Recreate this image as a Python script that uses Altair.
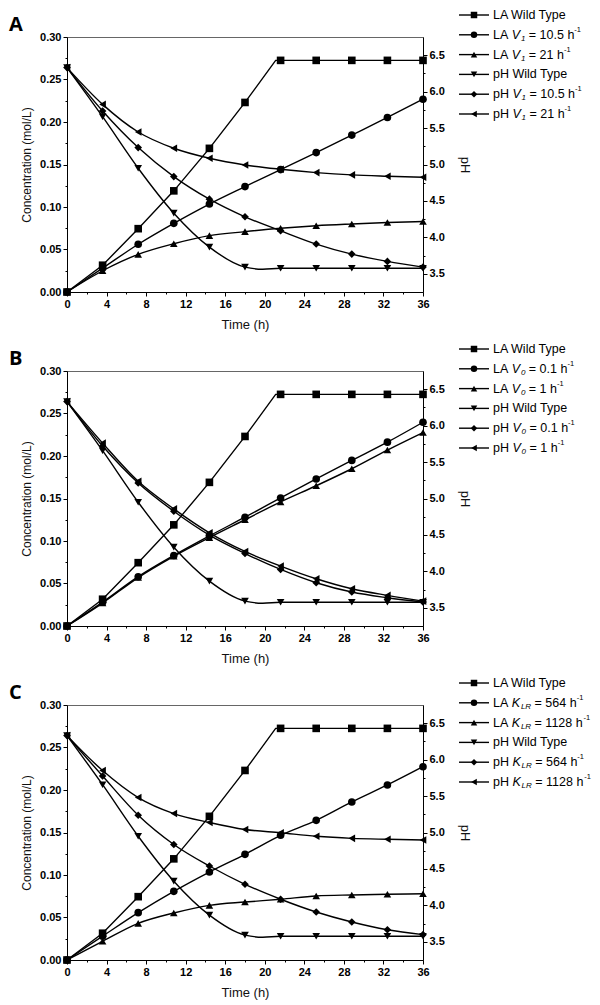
import altair as alt
import pandas as pd

# ---------------- data ----------------
T = [0, 3.6, 7.2, 10.8, 14.4, 18.0, 21.6, 25.2, 28.8, 32.4, 36.0]

LA_WILD = [0.0, 0.0315, 0.0745, 0.119, 0.169, 0.223, 0.2725, 0.2725, 0.2725, 0.2725, 0.2725]
LA_WILD_KNEE = [21.1, 0.2725]          # where the wild-type LA line levels off
PH_WILD = [6.33, 5.656, 4.949, 4.332, 3.866, 3.592, 3.575, 3.575, 3.575, 3.575, 3.575]
PH_WILD_DIP = [19.8, 3.563]            # lowest point of the wild-type pH line

# Panel A
A_LA_1 = [0.0, 0.028, 0.0562, 0.0808, 0.1035, 0.124, 0.144, 0.164, 0.1846, 0.2053, 0.2268]
A_LA_2 = [0.0, 0.025, 0.0443, 0.0568, 0.0663, 0.071, 0.075, 0.078, 0.080, 0.0817, 0.083]
A_PH_1 = [6.33, 5.734, 5.232, 4.834, 4.524, 4.282, 4.09, 3.908, 3.77, 3.67, 3.592]
A_PH_2 = [6.33, 5.825, 5.446, 5.223, 5.086, 4.994, 4.935, 4.889, 4.857, 4.839, 4.825]
# Panel B
B_LA_1 = [0.0, 0.028, 0.058, 0.083, 0.106, 0.128, 0.1506, 0.173, 0.1948, 0.2163, 0.2397]
B_LA_2 = [0.0, 0.027, 0.057, 0.082, 0.104, 0.125, 0.146, 0.165, 0.185, 0.207, 0.2276]
B_PH_1 = [6.33, 5.72, 5.213, 4.825, 4.497, 4.245, 4.026, 3.844, 3.716, 3.638, 3.579]
B_PH_2 = [6.33, 5.76, 5.236, 4.857, 4.529, 4.273, 4.072, 3.898, 3.761, 3.67, 3.592]
# Panel C
C_LA_1 = [0.0, 0.028, 0.0557, 0.0808, 0.1035, 0.1243, 0.1467, 0.1643, 0.1859, 0.2059, 0.2274]
C_LA_2 = [0.0, 0.022, 0.0431, 0.0553, 0.0643, 0.0682, 0.0714, 0.0753, 0.0765, 0.0773, 0.078]
C_PH_1 = [6.33, 5.775, 5.237, 4.836, 4.54, 4.289, 4.084, 3.909, 3.772, 3.666, 3.598]
C_PH_2 = [6.33, 5.85, 5.48, 5.26, 5.137, 5.041, 4.996, 4.948, 4.92, 4.907, 4.897]

PANELS = [
    {"letter": "A", "sym": "V", "sub": "1", "vals": ["10.5", "21"],
     "la": [A_LA_1, A_LA_2], "ph": [A_PH_1, A_PH_2]},
    {"letter": "B", "sym": "V", "sub": "0", "vals": ["0.1", "1"],
     "la": [B_LA_1, B_LA_2], "ph": [B_PH_1, B_PH_2]},
    {"letter": "C", "sym": "K", "sub": "LR", "vals": ["564", "1128"],
     "la": [C_LA_1, C_LA_2], "ph": [C_PH_1, C_PH_2]},
]

KEYS = ["LA0", "LA1", "LA2", "PH0", "PH1", "PH2"]
KINDS = ["LA", "LA", "LA", "pH", "pH", "pH"]
SHAPES = ["square", "circle", "triangle-up", "triangle-down", "diamond", "triangle-left"]

X_DOMAIN = [0, 36]
C_DOMAIN = [0.0, 0.30]
PH_DOMAIN = [3.25, 6.75]
X_TICKS = [0, 4, 8, 12, 16, 20, 24, 28, 32, 36]
X_MINOR = [2, 6, 10, 14, 18, 22, 26, 30, 34]
C_TICKS = [0.0, 0.05, 0.10, 0.15, 0.20, 0.25, 0.30]
C_MINOR = [0.025, 0.075, 0.125, 0.175, 0.225, 0.275]
PH_TICKS = [3.5, 4.0, 4.5, 5.0, 5.5, 6.0, 6.5]
PH_MINOR = [3.75, 4.25, 4.75, 5.25, 5.75, 6.25]

# ---------------- layout ----------------
W, H = 356, 255
FONT = "Liberation Sans"
LEG_Y0, LEG_DY = -22, 19.8
LEG_LINE_X0, LEG_LINE_X1, LEG_TEXT_X = W + 36, W + 66, W + 70

# Arial / Liberation Sans advance widths (1/1000 em)
ADV = {' ': 278, '-': 333, '.': 278, '=': 584, 'A': 667, 'H': 722, 'K': 667, 'L': 556,
       'R': 722, 'T': 611, 'V': 667, 'W': 944, 'd': 556, 'e': 556, 'h': 556, 'i': 222,
       'l': 222, 'p': 556, 'y': 500}
SIZES = {"n": 12.5, "i": 12.5, "s": 8, "u": 7.5}


def text_w(s, size):
    return sum(ADV.get(c, 556) for c in s) * size / 1000.0


XS = alt.Scale(domain=X_DOMAIN, nice=False, zero=False)
YC = alt.Scale(domain=C_DOMAIN, nice=False, zero=False)
YP = alt.Scale(domain=PH_DOMAIN, nice=False, zero=False)
SHAPE_SCALE = alt.Scale(domain=KEYS, range=SHAPES)

x_major = alt.X("t:Q", scale=XS, title="Time (h)",
                axis=alt.Axis(values=X_TICKS, format="d", orient="bottom", tickSize=4,
                              titlePadding=9, titleFontSize=13, labelFlush=False,
                              labelOverlap=False, offset=0))
x_minor = alt.X("t:Q", scale=XS, title=None,
                axis=alt.Axis(values=X_MINOR, labels=False, domain=False, orient="bottom",
                              tickSize=2, offset=0))
x_none = alt.X("t:Q", scale=XS, axis=None)

yc_major = alt.Y("v:Q", scale=YC, title="Concentration (mol/L)",
                 axis=alt.Axis(values=C_TICKS, format=".2f", orient="left", tickSize=4,
                               titleFontSize=12, titlePadding=6, labelOverlap=False, offset=0))
yc_minor = alt.Y("v:Q", scale=YC, title=None,
                 axis=alt.Axis(values=C_MINOR, labels=False, domain=False, orient="left",
                               tickSize=2, offset=0))
yc_none = alt.Y("v:Q", scale=YC, axis=None)
yp_major = alt.Y("v:Q", scale=YP, title="pH",
                 axis=alt.Axis(values=PH_TICKS, format=".1f", orient="right", tickSize=4,
                               titleFontSize=13, titlePadding=13, labelOverlap=False, offset=0))
yp_minor = alt.Y("v:Q", scale=YP, title=None,
                 axis=alt.Axis(values=PH_MINOR, labels=False, domain=False, orient="right",
                               tickSize=2, offset=0))

shape_enc = alt.Shape("key:N", scale=SHAPE_SCALE, legend=None)


def panel(p):
    la_series = [LA_WILD] + p["la"]
    ph_series = [PH_WILD] + p["ph"]
    la_pts = pd.DataFrame([{"t": t, "v": v, "key": KEYS[i]}
                           for i, arr in enumerate(la_series) for t, v in zip(T, arr)])
    ph_pts = pd.DataFrame([{"t": t, "v": v, "key": KEYS[3 + i]}
                           for i, arr in enumerate(ph_series) for t, v in zip(T, arr)])
    la_wt_line = pd.concat([la_pts[la_pts.key == "LA0"],
                            pd.DataFrame([{"t": LA_WILD_KNEE[0], "v": LA_WILD_KNEE[1], "key": "LA0"}])])
    la_other_line = la_pts[la_pts.key != "LA0"]
    ph_line = pd.concat([ph_pts,
                         pd.DataFrame([{"t": PH_WILD_DIP[0], "v": PH_WILD_DIP[1], "key": "PH0"}])])

    line_kw = dict(color="black", strokeWidth=1.4)
    pt_kw = dict(filled=True, color="black", opacity=1, size=58)

    l_la = alt.Chart(la_other_line).mark_line(interpolate="monotone", **line_kw).encode(
        x=x_major, y=yc_major, detail="key:N")
    l_la_wt = alt.Chart(la_wt_line).mark_line(interpolate="linear", **line_kw).encode(
        x=x_none, y=yc_none, detail="key:N")
    p_la = alt.Chart(la_pts).mark_point(**pt_kw).encode(x=x_minor, y=yc_minor, shape=shape_enc)
    l_ph = alt.Chart(ph_line).mark_line(interpolate="monotone", **line_kw).encode(
        x=x_none, y=yp_major, detail="key:N")
    p_ph = alt.Chart(ph_pts).mark_point(**pt_kw).encode(x=x_none, y=yp_minor, shape=shape_enc)

    # legend (drawn as marks, to keep line + symbol and rich text)
    leg = pd.DataFrame([{"key": k, "ly": LEG_Y0 + i * LEG_DY} for i, k in enumerate(KEYS)])
    rows = []
    for i, k in enumerate(KEYS):
        kind = KINDS[i]
        j = i % 3
        if j == 0:
            segs = [(f"{kind} Wild Type", "n")]
        else:
            segs = [(f"{kind} ", "n"), (p["sym"], "i"), (p["sub"], "s"),
                    (f" = {p['vals'][j - 1]} h", "n"), ("-1", "u")]
        x = LEG_TEXT_X
        for txt, st in segs:
            lead = len(txt) - len(txt.lstrip(" "))
            x0 = x + text_w(" " * lead, SIZES[st])
            rows.append({"sx": x0, "sy": LEG_Y0 + i * LEG_DY, "txt": txt.strip(), "st": st})
            x += text_w(txt, SIZES[st]) + (0.8 if st == "i" else 0.0)
    seg = pd.DataFrame(rows)

    ly = alt.Y("ly:Q", scale=None, axis=None)
    leg_rule = alt.Chart(leg).mark_rule(color="black", strokeWidth=1.4).encode(
        x=alt.value(LEG_LINE_X0), x2=alt.value(LEG_LINE_X1), y=ly)
    leg_pts = alt.Chart(leg).mark_point(filled=True, color="black", opacity=1, size=42).encode(
        x=alt.value((LEG_LINE_X0 + LEG_LINE_X1) / 2), y=ly, shape=shape_enc)

    def seg_layer(st, **kw):
        return alt.Chart(seg[seg.st == st]).mark_text(
            align="left", baseline="middle", font=FONT, color="black",
            fontSize=SIZES[st], **kw).encode(
            x=alt.X("sx:Q", scale=None, axis=None),
            y=alt.Y("sy:Q", scale=None, axis=None),
            text="txt:N")

    t_n = seg_layer("n")
    t_i = seg_layer("i", fontStyle="italic")
    t_s = seg_layer("s", fontStyle="italic", dy=4)
    t_u = seg_layer("u", dy=-5)

    letter = alt.Chart(pd.DataFrame({"s": [p["letter"]]})).mark_text(
        align="left", baseline="middle", font="Open Sans", fontWeight="bold",
        fontSize=20, color="black").encode(x=alt.value(-58), y=alt.value(-12), text="s:N")

    return alt.layer(l_la, l_la_wt, p_la, l_ph, p_ph, leg_rule, leg_pts,
                     t_n, t_i, t_s, t_u, letter).resolve_scale(
        x="independent", y="independent").properties(width=W, height=H)


chart = alt.vconcat(*[panel(p) for p in PANELS], spacing=10).properties(
    padding=0
).configure_axis(
    labelFont=FONT, labelFontSize=11, labelFontWeight="bold", labelColor="black",
    titleFont=FONT, titleFontWeight="normal", titleColor="#111",
    tickColor="black", domainColor="black", grid=False, labelPadding=2
).configure_view(stroke="#666", strokeWidth=1)

chart.save("out.html", embed_options={"renderer": "svg", "actions": False})
